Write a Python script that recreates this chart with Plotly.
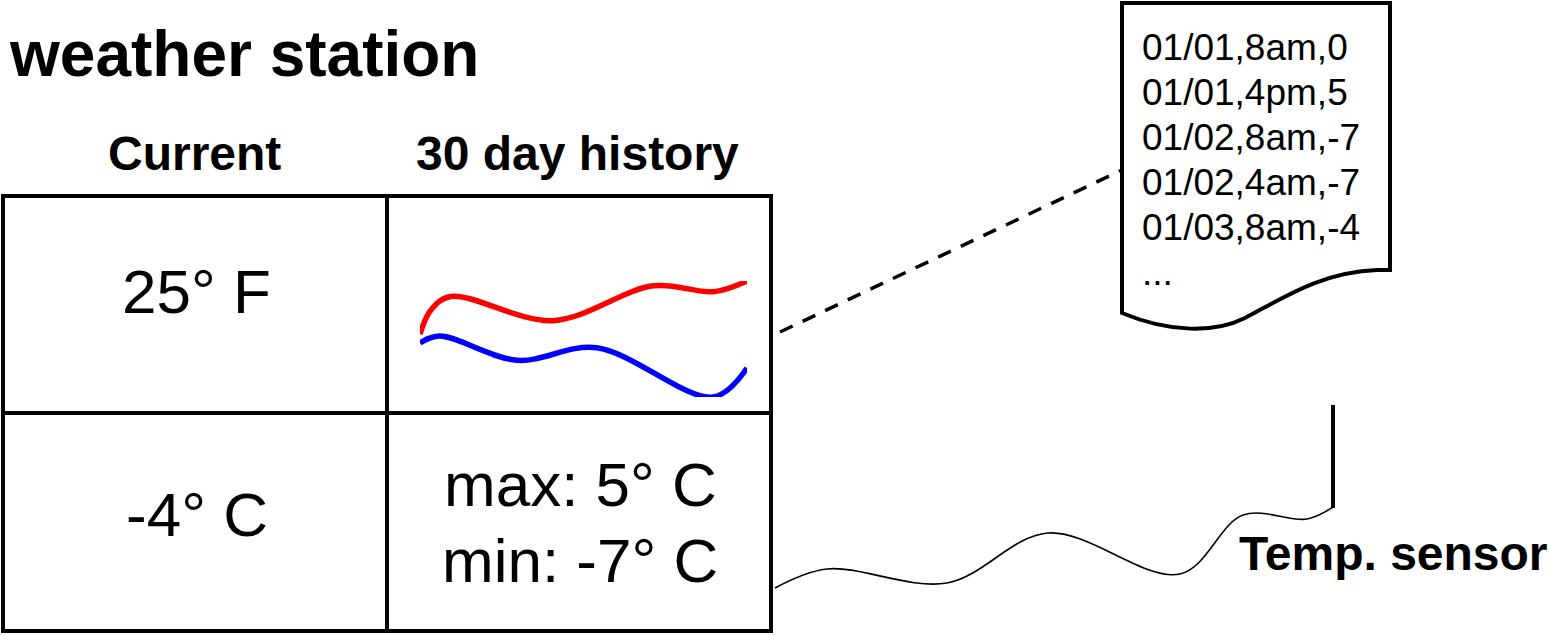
import plotly.graph_objects as go

# ---------------- data ----------------
title_text = "weather station"
col_headers = ["Current", "30 day history"]
current_f = "25\u00b0 F"
current_c = "-4\u00b0 C"
hist_max = "max: 5\u00b0 C"
hist_min = "min: -7\u00b0 C"
log_lines = ["01/01,8am,0", "01/01,4pm,5", "01/02,8am,-7", "01/02,4am,-7", "01/03,8am,-4", "..."]
sensor_label = "Temp. sensor"

# 30-day history sparkline values (day, temperature C)
max_days = [0, 1, 2.8, 12.2, 21.4, 27, 30]
max_temps = [-0.5, 2.0, 3.4, 0.9, 4.5, 3.9, 5.0]
min_days = [0, 1.8, 8.9, 16.2, 26.9, 30]
min_temps = [-1.4, -0.7, -3.2, -1.9, -7.0, -4.0]

W, H = 1550, 635
FONT = "Liberation Sans, Arial, sans-serif"

fig = go.Figure()

# invisible trace to establish main pixel axes
fig.add_trace(go.Scatter(x=[0, W], y=[0, H], mode="markers",
                         marker=dict(opacity=0), hoverinfo="skip", showlegend=False))

# sparklines on their own small axes
fig.add_trace(go.Scatter(x=max_days, y=max_temps, mode="lines",
                         line=dict(color="#ff0000", width=5.5, shape="spline", smoothing=1.0),
                         xaxis="x2", yaxis="y2", showlegend=False, hoverinfo="skip"))
fig.add_trace(go.Scatter(x=min_days, y=min_temps, mode="lines",
                         line=dict(color="#0000ff", width=5.5, shape="spline", smoothing=1.0),
                         xaxis="x2", yaxis="y2", showlegend=False, hoverinfo="skip"))

# wire from table to sensor
wire_x = [775, 827, 947, 1048, 1180, 1243, 1307, 1333]
wire_y = [588, 569, 583, 533, 574, 515, 519, 507]
fig.add_trace(go.Scatter(x=wire_x, y=wire_y, mode="lines",
                         line=dict(color="black", width=1.6, shape="spline", smoothing=1.0),
                         showlegend=False, hoverinfo="skip"))

shapes = []
LW = 4
# table
shapes.append(dict(type="rect", x0=3, y0=196, x1=771, y1=631, line=dict(color="black", width=LW)))
shapes.append(dict(type="line", x0=387, y0=196, x1=387, y1=631, line=dict(color="black", width=LW)))
shapes.append(dict(type="line", x0=3, y0=413, x1=771, y1=413, line=dict(color="black", width=LW)))
# dashed connector
shapes.append(dict(type="line", x0=780, y0=332, x1=1122, y1=170,
                   line=dict(color="black", width=3.5, dash="14px,11px")))
# document
shapes.append(dict(type="path",
                   path="M 1122,313 L 1122,3 L 1390,3 L 1390,270 L 1377,270 "
                        "C 1320,272 1280,300 1245,318 C 1215,333 1170,333 1122,313 Z",
                   line=dict(color="black", width=LW), fillcolor="rgba(0,0,0,0)"))
# sensor probe
shapes.append(dict(type="line", x0=1333, y0=405, x1=1333, y1=508, line=dict(color="black", width=4)))

ann = []
def txt(x, y, s, size, bold=False, xanchor="center"):
    ann.append(dict(x=x, y=y, xref="x", yref="y", text=("<b>%s</b>" % s) if bold else s,
                    showarrow=False, xanchor=xanchor, yanchor="middle",
                    font=dict(family=FONT, size=size, color="black")))

txt(7, 54, title_text, 64, bold=True, xanchor="left")
txt(194, 153, col_headers[0], 48, bold=True)
txt(577, 153, col_headers[1], 48, bold=True)
txt(196, 291, current_f, 62)
txt(197, 514, current_c, 62)
txt(580, 484, hist_max, 62)
txt(580, 560, hist_min, 62)
for i, line in enumerate(log_lines):
    txt(1140, 47 + 45 * i, line, 37, xanchor="left")
txt(1237, 553, sensor_label, 48, bold=True, xanchor="left")

fig.update_layout(
    width=W, height=H, margin=dict(l=0, r=0, t=0, b=0),
    paper_bgcolor="white", plot_bgcolor="white",
    xaxis=dict(range=[0, W], visible=False, domain=[0, 1], fixedrange=True),
    yaxis=dict(range=[H, 0], visible=False, domain=[0, 1], fixedrange=True),
    xaxis2=dict(range=[0, 30], visible=False, domain=[420 / W, 747 / W], anchor="y2"),
    yaxis2=dict(range=[-7, 5], visible=False, domain=[(H - 397) / H, (H - 281) / H], anchor="x2"),
    shapes=shapes, annotations=ann, showlegend=False,
)

fig.write_html("out.html", config={"displayModeBar": False},
               post_script="document.body.style.margin='0';document.body.style.overflow='hidden';")
